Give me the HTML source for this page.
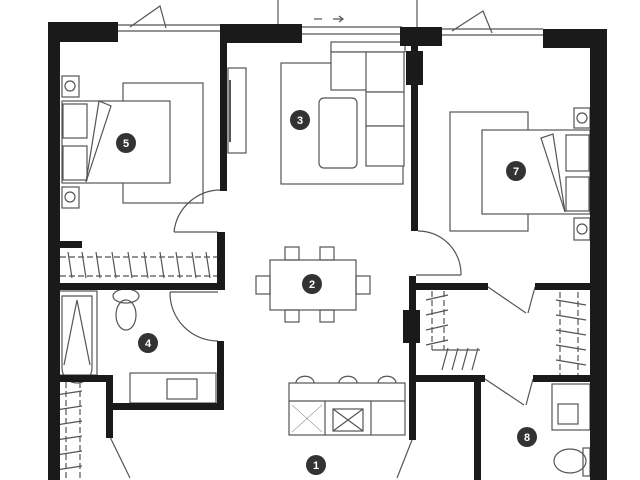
<!DOCTYPE html>
<html><head><meta charset="utf-8"><style>
html,body{margin:0;padding:0;background:#fff;width:640px;height:480px;overflow:hidden}
svg{display:block}
text{font-family:"Liberation Sans",sans-serif;font-weight:bold;fill:#fff;font-size:11px;text-anchor:middle}
</style></head><body>
<svg width="640" height="480" viewBox="0 0 640 480" xmlns="http://www.w3.org/2000/svg">
<g fill="none" stroke="#555" stroke-width="1.2">
<!-- windows top -->
<line x1="118" y1="25" x2="220" y2="25"/><line x1="118" y1="31" x2="220" y2="31"/>
<line x1="302" y1="27" x2="402" y2="27"/><line x1="302" y1="34" x2="402" y2="34"/>
<line x1="442" y1="29" x2="543" y2="29"/><line x1="442" y1="35" x2="543" y2="35"/>
<line x1="278" y1="0" x2="278" y2="24"/><line x1="417" y1="0" x2="417" y2="27"/>
<path d="M130 27 L160 6 L166 28"/><path d="M452 31 L483 11 L492 33"/>
<line x1="314" y1="19" x2="322" y2="19"/><path d="M333 19 L343 19 M339 16 L343 19 L339 22"/>
<!-- bedroom 5 -->
<rect x="123" y="83" width="80" height="120"/>
<rect x="62" y="101" width="108" height="82" fill="#fff"/>
<rect x="63" y="104" width="24" height="34"/><rect x="63" y="146" width="24" height="34"/>
<path d="M86 182 L99 101 L111 106 Z"/>
<rect x="62" y="76" width="17" height="21"/><circle cx="70" cy="86" r="5"/>
<rect x="62" y="187" width="17" height="21"/><circle cx="70" cy="197" r="5"/>
<rect x="228" y="68" width="18" height="85"/>
<line x1="230" y1="80" x2="230" y2="142" stroke-width="2"/>
<path d="M174 232 A47 47 0 0 1 222 190"/><line x1="174" y1="232" x2="218" y2="232"/>
<!-- living -->
<rect x="281" y="63" width="122" height="121"/>
<rect x="331" y="42" width="74" height="10" fill="#fff"/>
<rect x="331" y="52" width="36" height="38" fill="#fff"/>
<rect x="366" y="52" width="38" height="40" fill="#fff"/>
<rect x="366" y="92" width="38" height="34" fill="#fff"/>
<rect x="366" y="126" width="38" height="40" fill="#fff"/>
<rect x="319" y="98" width="38" height="70" rx="5"/>
<!-- bedroom 7 -->
<rect x="450" y="112" width="78" height="119"/>
<rect x="482" y="130" width="108" height="84" fill="#fff"/>
<rect x="566" y="135" width="23" height="36"/><rect x="566" y="177" width="23" height="34"/>
<path d="M565 212 L541 138 L553 134 Z"/>
<rect x="574" y="108" width="16" height="20"/><circle cx="582" cy="118" r="5"/>
<rect x="574" y="218" width="16" height="22"/><circle cx="582" cy="229" r="5"/>
<path d="M418 231 A43 43 0 0 1 461 275"/><line x1="416" y1="275" x2="461" y2="275"/>
<!-- dining -->
<rect x="270" y="260" width="86" height="50"/>
<rect x="285" y="247" width="14" height="13"/><rect x="320" y="247" width="14" height="13"/>
<rect x="285" y="310" width="14" height="12"/><rect x="320" y="310" width="14" height="12"/>
<rect x="256" y="276" width="14" height="18"/><rect x="356" y="276" width="14" height="18"/>
<!-- kitchen -->
<rect x="289" y="383" width="116" height="52"/>
<line x1="289" y1="401" x2="405" y2="401"/>
<line x1="325" y1="401" x2="325" y2="435"/><line x1="371" y1="401" x2="371" y2="435"/>
<path d="M296 383 A8 6 0 0 1 314 383 M339 383 A8 6 0 0 1 357 383 M378 383 A8 6 0 0 1 396 383"/>
<rect x="333" y="409" width="30" height="22"/><path d="M333 409 L363 431 M363 409 L333 431"/>
<path d="M292 405 L322 432 M322 405 L292 432" stroke-width="0.5"/>
<line x1="412" y1="440" x2="397" y2="478"/>
<!-- bedroom5 closet -->
<line x1="60" y1="257" x2="217" y2="257" stroke-dasharray="6 3"/>
<line x1="60" y1="276" x2="217" y2="276" stroke-dasharray="6 3"/>
<path d="M68 252 l4 26 M82 252 l4 26 M96 252 l4 26 M112 252 l4 26 M128 252 l4 26 M144 252 l4 26 M160 252 l4 26 M176 252 l4 26 M192 252 l4 26 M206 252 l4 26"/>
<!-- bathroom 4 -->
<rect x="57" y="291" width="40" height="84"/><path d="M62 296 L92 296 L92 368 A15 15 0 0 1 62 368 Z"/>
<path d="M77 300 L64 365 M77 300 L90 365"/>
<ellipse cx="126" cy="296" rx="13" ry="7"/><ellipse cx="126" cy="315" rx="10" ry="15"/>
<rect x="130" y="373" width="86" height="30"/><rect x="167" y="379" width="30" height="20"/>
<path d="M170 292 A48 48 0 0 0 218 341"/><line x1="170" y1="292" x2="218" y2="292"/>
<!-- left lower closet -->
<line x1="66" y1="382" x2="66" y2="480" stroke-dasharray="6 3"/><line x1="80" y1="382" x2="80" y2="480" stroke-dasharray="6 3"/>
<path d="M56 395 l26 -4 M56 410 l26 -4 M56 425 l26 -4 M56 440 l26 -4 M56 455 l26 -4 M56 470 l26 -4"/>
<line x1="110" y1="437" x2="130" y2="478"/>
<!-- walk-in closet -->
<path d="M426 300 l22 -5 M426 315 l22 -5 M426 330 l22 -5 M426 345 l22 -5"/>
<line x1="432" y1="291" x2="432" y2="350" stroke-dasharray="6 3"/><line x1="444" y1="291" x2="444" y2="350" stroke-dasharray="6 3"/>
<path d="M432 350 L480 350 M442 370 l6 -22 M452 370 l6 -22 M462 370 l6 -22 M472 370 l6 -22"/>
<line x1="560" y1="292" x2="560" y2="375" stroke-dasharray="6 3"/><line x1="578" y1="292" x2="578" y2="375" stroke-dasharray="6 3"/>
<path d="M556 300 l30 5 M556 315 l30 5 M556 330 l30 5 M556 345 l30 5 M556 360 l30 5"/>
<line x1="488" y1="287" x2="526" y2="313"/><line x1="535" y1="287" x2="528" y2="313"/>
<line x1="485" y1="379" x2="524" y2="405"/><line x1="533" y1="379" x2="526" y2="405"/>
<!-- bathroom 8 -->
<rect x="552" y="384" width="38" height="46"/><rect x="558" y="404" width="20" height="20"/>
<ellipse cx="570" cy="461" rx="16" ry="12"/><rect x="583" y="448" width="7" height="28"/>
</g>
<g fill="#1a1a1a">
<rect x="48" y="22" width="12" height="458"/>
<rect x="48" y="22" width="70" height="20"/>
<rect x="220" y="24" width="82" height="19"/>
<rect x="220" y="24" width="7" height="167"/>
<rect x="400" y="27" width="42" height="19"/>
<rect x="411" y="46" width="7" height="185"/>
<rect x="406" y="51" width="17" height="34"/>
<rect x="543" y="29" width="64" height="19"/>
<rect x="590" y="29" width="17" height="451"/>
<rect x="55" y="241" width="27" height="7"/>
<rect x="217" y="232" width="8" height="58"/>
<rect x="48" y="283" width="177" height="7"/>
<rect x="48" y="375" width="64" height="7"/>
<rect x="106" y="375" width="7" height="63"/>
<rect x="113" y="403" width="111" height="7"/>
<rect x="217" y="341" width="7" height="69"/>
<rect x="409" y="276" width="7" height="164"/>
<rect x="403" y="310" width="17" height="33"/>
<rect x="416" y="283" width="72" height="7"/>
<rect x="535" y="283" width="55" height="7"/>
<rect x="416" y="375" width="69" height="7"/>
<rect x="533" y="375" width="57" height="7"/>
<rect x="474" y="382" width="7" height="98"/>
</g>
<g fill="#333">
<circle cx="126" cy="143" r="10"/><circle cx="300" cy="120" r="10"/><circle cx="516" cy="171" r="10"/>
<circle cx="312" cy="284" r="10"/><circle cx="148" cy="343" r="10"/><circle cx="316" cy="465" r="10"/><circle cx="527" cy="437" r="10"/>
</g>
<text x="126" y="147">5</text><text x="300" y="124">3</text><text x="516" y="175">7</text>
<text x="312" y="288">2</text><text x="148" y="347">4</text><text x="316" y="469">1</text><text x="527" y="441">8</text>
</svg>
</body></html>
